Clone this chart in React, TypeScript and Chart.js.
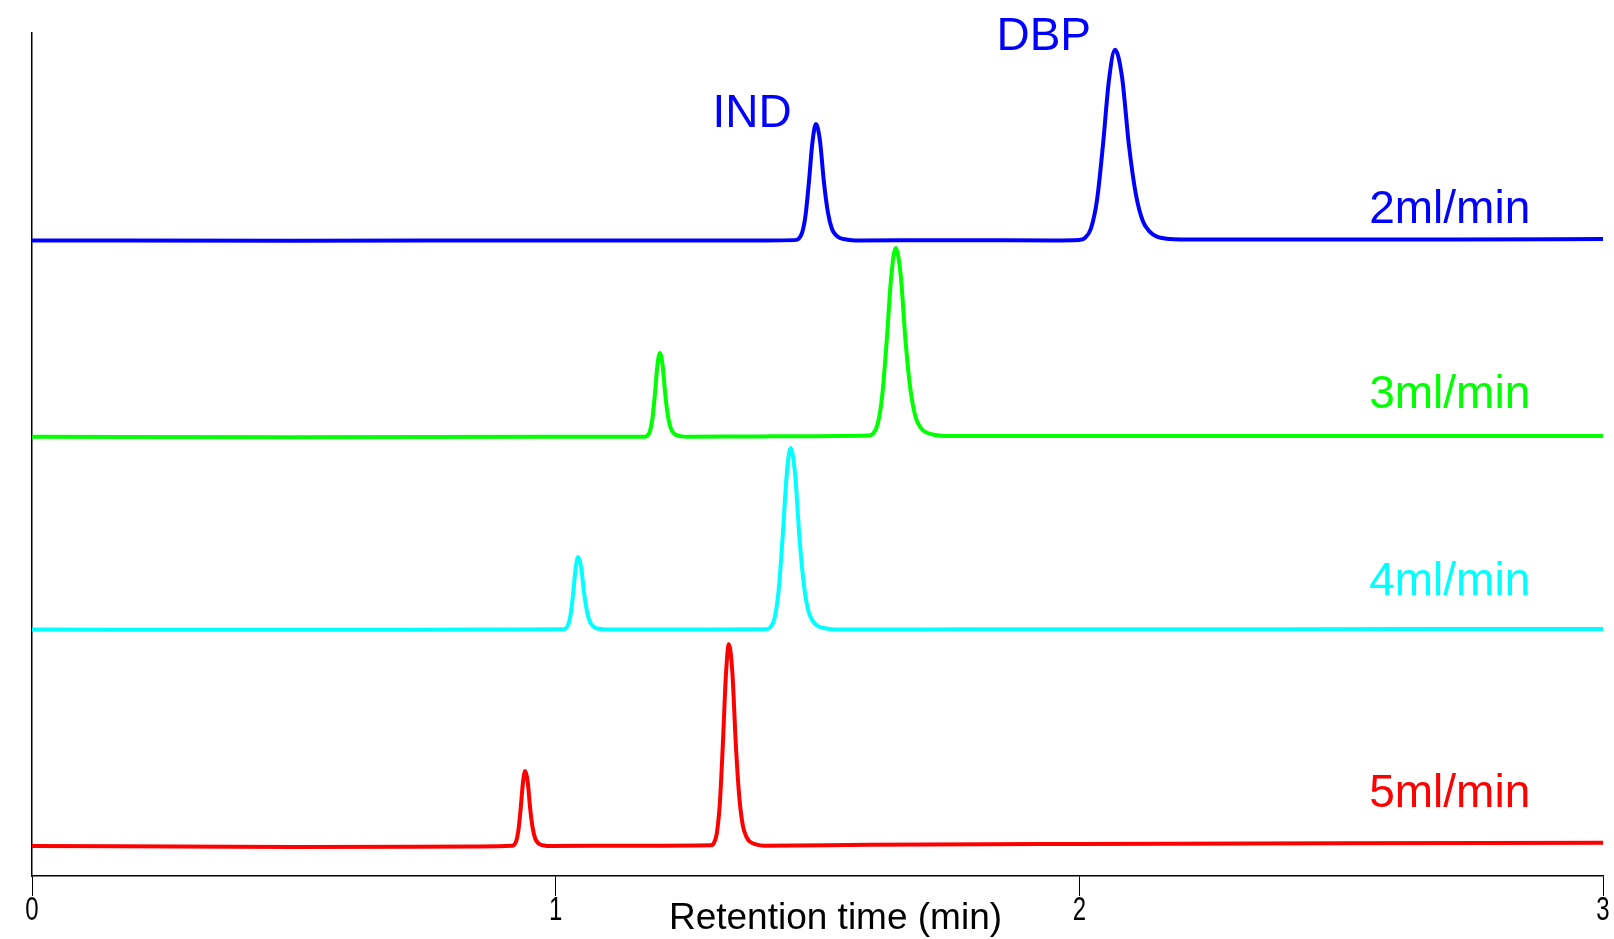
import React, { useEffect, useRef } from "react";
import { Chart, registerables } from "chart.js";

Chart.register(...registerables);

// Retention time (min) / detector response (arbitrary, offset traces)
const flow2Time = [0, 0.5, 1.0, 1.4, 1.457, 1.4636, 1.4703, 1.477, 1.4836, 1.4903, 1.497, 1.5046, 1.5123, 1.5199, 1.5275, 1.5352, 1.5428, 1.558, 1.573, 1.75, 1.95, 1.9993, 2.0107, 2.0222, 2.0337, 2.0451, 2.0566, 2.068, 2.0814, 2.0947, 2.1081, 2.1214, 2.1348, 2.1481, 2.1749, 2.2016, 2.4, 2.7, 3.0];
const flow2Value = [75.4, 75.35, 75.4, 75.4, 75.43, 75.58, 76.26, 78.3, 82.3, 87.0, 89.2, 87.27, 82.3, 78.71, 76.78, 76.02, 75.68, 75.47, 75.4, 75.42, 75.4, 75.45, 75.69, 76.81, 80.15, 86.7, 94.41, 98.0, 94.84, 86.7, 80.82, 77.66, 76.42, 75.85, 75.55, 75.5, 75.5, 75.5, 75.55];

const flow3Time = [0, 0.5, 1.0, 1.1703, 1.175, 1.1798, 1.1846, 1.1894, 1.1941, 1.1989, 1.2041, 1.2094, 1.2146, 1.2199, 1.2251, 1.2304, 1.2409, 1.2514, 1.4, 1.5977, 1.6063, 1.6148, 1.6234, 1.632, 1.6406, 1.6492, 1.6587, 1.6683, 1.6778, 1.6874, 1.6969, 1.7065, 1.7255, 1.7446, 2.0, 2.5, 3.0];
const flow3Value = [52.1, 52.05, 52.1, 52.12, 52.23, 52.72, 54.19, 57.07, 60.46, 62.04, 60.65, 57.07, 54.49, 53.09, 52.55, 52.3, 52.15, 52.1, 52.15, 52.24, 52.49, 53.59, 56.88, 63.35, 70.95, 74.5, 71.38, 63.35, 57.55, 54.43, 53.2, 52.65, 52.31, 52.2, 52.2, 52.2, 52.2];

const flow4Time = [0, 0.5, 0.9, 1.0143, 1.019, 1.0238, 1.0286, 1.0334, 1.0381, 1.0429, 1.0486, 1.0544, 1.0601, 1.0658, 1.0715, 1.0773, 1.0887, 1.1002, 1.25, 1.4027, 1.4103, 1.418, 1.4256, 1.4332, 1.4409, 1.4485, 1.4571, 1.4657, 1.4743, 1.4829, 1.4914, 1.5, 1.5172, 1.5344, 1.8, 2.4, 3.0];
const flow4Value = [29.24, 29.2, 29.24, 29.26, 29.35, 29.78, 31.05, 33.54, 36.47, 37.84, 36.64, 33.54, 31.3, 30.1, 29.63, 29.41, 29.28, 29.24, 29.24, 29.28, 29.52, 30.59, 33.76, 40.01, 47.35, 50.77, 47.76, 40.01, 34.41, 31.39, 30.21, 29.67, 29.35, 29.24, 29.26, 29.28, 29.3];

const flow5Time = [0, 0.5, 0.85, 0.916, 0.9203, 0.9246, 0.9289, 0.9332, 0.9375, 0.9418, 0.9466, 0.9513, 0.9561, 0.9609, 0.9657, 0.9704, 0.98, 0.9895, 1.15, 1.2963, 1.3021, 1.3078, 1.3135, 1.3192, 1.325, 1.3307, 1.3374, 1.3441, 1.3507, 1.3574, 1.3641, 1.3708, 1.3841, 1.3975, 1.6, 2.0, 2.5, 3.0];
const flow5Value = [3.56, 3.45, 3.5, 3.58, 3.68, 4.12, 5.43, 8.01, 11.04, 12.46, 11.21, 8.01, 5.7, 4.45, 3.96, 3.74, 3.6, 3.56, 3.6, 3.65, 3.91, 5.09, 8.61, 15.54, 23.68, 27.48, 24.14, 15.54, 9.33, 6.0, 4.67, 4.08, 3.72, 3.6, 3.7, 3.8, 3.88, 3.95];

const seriesNames = ["2ml/min", "3ml/min", "4ml/min", "5ml/min"];
const seriesColors = ["#0000ff", "#00ff00", "#00ffff", "#ff0000"];
const seriesTimes = [flow2Time, flow3Time, flow4Time, flow5Time];
const seriesValues = [flow2Value, flow3Value, flow4Value, flow5Value];

// label anchor positions in data coordinates (time, response)
const seriesLabelTime = [2.861, 2.861, 2.861, 2.861];
const seriesLabelValue = [77.46, 55.52, 33.39, 8.24];

const peakNames = ["IND", "DBP"];
const peakLabelTime = [1.375, 1.932];
const peakLabelValue = [88.85, 98.0];

const xTicks = [0, 1, 2, 3];
const xTickLabels = ["0", "1", "2", "3"];
const xTitle = "Retention time (min)";

const FONT = "'Liberation Sans', Arial, Helvetica, sans-serif";
Chart.defaults.font.family = FONT;

export default function App() {
  const canvasRef = useRef<HTMLCanvasElement | null>(null);

  useEffect(() => {
    document.body.style.margin = "0";
    const canvas = canvasRef.current;
    if (!canvas) return;

    const labelPlugin = {
      id: "annotations",
      afterDraw(chart: any) {
        const ctx = chart.ctx;
        const xs = chart.scales.x;
        const ys = chart.scales.y;
        ctx.save();
        ctx.textBaseline = "alphabetic";
        ctx.font = `46px ${FONT}`;
        ctx.fillStyle = seriesColors[0];
        ctx.textAlign = "center";
        peakNames.forEach((n, i) => {
          ctx.fillText(n, xs.getPixelForValue(peakLabelTime[i]), ys.getPixelForValue(peakLabelValue[i]));
        });
        ctx.textAlign = "right";
        seriesNames.forEach((n, i) => {
          ctx.fillStyle = seriesColors[i];
          ctx.fillText(n, xs.getPixelForValue(seriesLabelTime[i]), ys.getPixelForValue(seriesLabelValue[i]));
        });
        // x tick labels (slightly tall glyphs as in the original)
        ctx.fillStyle = "#000";
        ctx.textAlign = "center";
        ctx.font = `24px ${FONT}`;
        const baseY = xs.top + 44;
        xTicks.forEach((v, i) => {
          ctx.save();
          ctx.translate(xs.getPixelForValue(v), baseY);
          ctx.scale(1, 1.35);
          ctx.fillText(xTickLabels[i], 0, 0);
          ctx.restore();
        });
        // axis title
        ctx.font = `37px ${FONT}`;
        ctx.fillText(xTitle, xs.getPixelForValue(1.5) + 18, chart.height - 10);
        ctx.restore();
      },
    };

    const chart = new Chart(canvas, {
      type: "line",
      data: {
        datasets: seriesNames.map((name, i) => ({
          label: name,
          data: seriesTimes[i].map((t, j) => ({ x: t, y: seriesValues[i][j] })),
          borderColor: seriesColors[i],
          backgroundColor: seriesColors[i],
          borderWidth: 4,
          pointRadius: 0,
          fill: false,
          cubicInterpolationMode: "monotone" as const,
        })),
      },
      options: {
        responsive: false,
        animation: false,
        layout: { padding: { top: 33, right: 11, left: 0, bottom: 0 } },
        plugins: {
          legend: { display: false },
          tooltip: { enabled: false },
        },
        scales: {
          x: {
            type: "linear",
            min: 0,
            max: 3,
            afterBuildTicks: (scale: any) => {
              scale.ticks = xTicks.map((v) => ({ value: v }));
            },
            afterFit: (scale: any) => {
              scale.height = 63;
            },
            ticks: {
              display: false,
            },
            grid: {
              drawOnChartArea: false,
              drawTicks: true,
              tickLength: 20,
              color: "#000",
              lineWidth: 1,
            },
            border: { display: true, color: "#000", width: 1.5 },
          },
          y: {
            type: "linear",
            min: 0,
            max: 100,
            afterFit: (scale: any) => {
              scale.width = 32;
            },
            ticks: { display: false },
            grid: { display: false, drawTicks: false },
            border: { display: true, color: "#000", width: 1.5 },
          },
        },
      },
      plugins: [labelPlugin],
    });

    return () => chart.destroy();
  }, []);

  return (
    <div style={{ width: 1614, height: 939, background: "#fff" }}>
      <canvas ref={canvasRef} width={1614} height={939} style={{ display: "block" }} />
    </div>
  );
}
